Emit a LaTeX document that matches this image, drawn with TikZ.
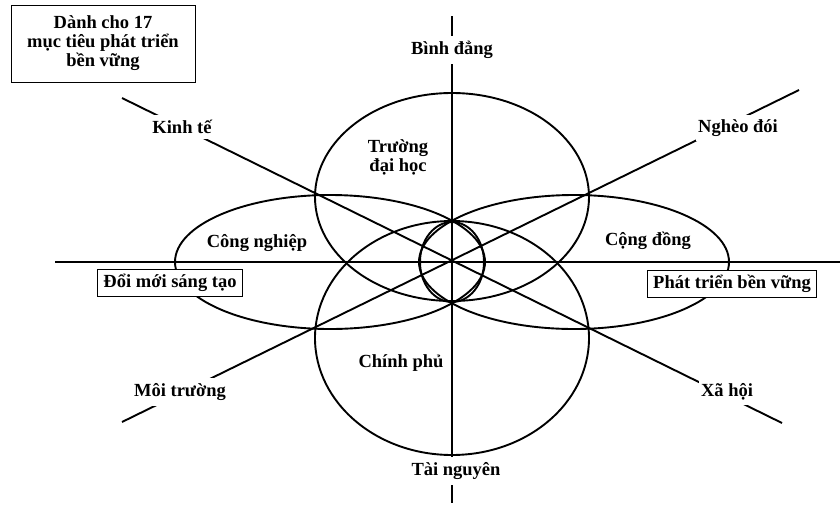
\documentclass[tikz,border=0pt]{standalone}
\usepackage{fontspec}
\setmainfont{Liberation Serif}
\begin{document}
\begin{tikzpicture}[x=1pt,y=-1pt,
  axis/.style={line width=1.9pt},
  ring/.style={line width=1.9pt},
  lbl/.style={font=\bfseries\fontsize{18.5}{22}\selectfont, inner sep=1pt},
  cut/.style={lbl, fill=white, inner xsep=2pt, inner ysep=5pt},
  tag/.style={lbl, draw, line width=1pt, fill=white, inner xsep=6pt, inner ysep=5pt}]
\useasboundingbox (0,0) rectangle (840,507);

% axis end points
\coordinate (O) at (452,262);
\coordinate (vtop) at (452,16);
\coordinate (vbot) at (452,503);
\coordinate (hl) at (55,262);
\coordinate (hr) at (840,262);
\coordinate (d1a) at (122,98);
\coordinate (d1b) at (782,423);
\coordinate (d2a) at (799,90);
\coordinate (d2b) at (122,422);

\draw[axis] (vtop) -- (vbot);
\draw[axis] (hl) -- (hr);
\draw[axis] (d1a) -- (d1b);
\draw[axis] (d2a) -- (d2b);

% the four overlapping ellipses and the central ring
\draw[ring] (452,197) ellipse [x radius=137pt, y radius=104pt];
\draw[ring] (452,338) ellipse [x radius=137pt, y radius=117pt];
\draw[ring] (330,262) ellipse [x radius=155pt, y radius=67pt];
\draw[ring] (574,262) ellipse [x radius=155pt, y radius=67pt];
\draw[ring] (O) ellipse [x radius=32pt, y radius=40pt];

% labels sitting on the axes
\node[cut] (binh) at (452,50) {Bình đẳng};
\node[cut] (tai) at (456,471) {Tài nguyên};
\node[cut] (kinh) at (182,127) {Kinh tế};
\node[cut] (ngheo) at (738,128) {Nghèo đói};
\node[cut] (moi) at (180,392) {Môi trường};
\node[cut] (xa) at (727,392) {Xã hội};

% labels inside the ellipses
\node[lbl, align=center] (truong) at (398,157) {Trường\\[-3pt]đại học};
\node[lbl] (cn) at (257,243) {Công nghiệp};
\node[lbl] (cd) at (648,241) {Cộng đồng};
\node[lbl] (cp) at (401,363) {Chính phủ};

% boxed labels
\node[tag] (doi) at (170,283) {Đổi mới sáng tạo};
\node[tag] (ptbv) at (732,284) {Phát triển bền vững};
\node[tag, align=center, minimum width=184pt, minimum height=77pt, inner ysep=2pt]
  (danh) at (103,43.5) {Dành cho 17\\[-3pt]mục tiêu phát triển\\[-3pt]bền vững};
\end{tikzpicture}
\end{document}
